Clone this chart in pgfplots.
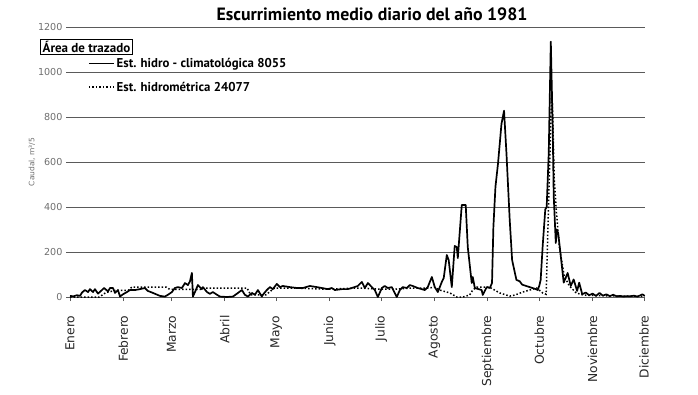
\documentclass[border=0pt]{standalone}
\usepackage{pgfplots}
\pgfplotsset{compat=1.18}
\usepackage{fontspec}
\setmainfont{PT Sans}
\newfontfamily\dejavu{DejaVu Sans}
\definecolor{gridgray}{RGB}{90,90,90}
\definecolor{labgray}{RGB}{110,110,110}
\pgfplotstableread{
x y
1 5
3 3
5 8
6.8 5
8 20
9.7 31
11.5 22
12.6 35
14.4 22
15.5 35
17.3 15
19.6 31
20.8 40
23.1 25
24.3 40
26 40
27.2 18
28.9 31
30.1 2
31.8 12
34.1 22
35.9 31
38.8 31
41.7 35
44.6 40
46.3 27
49.3 18
53.3 5
56.2 2
58 10
60.3 22
62 40
63.8 44
66.1 40
67.9 62
69.6 53
70.8 70
71.9 107
72.5 2
73.7 22
75.4 53
77.7 35
78.3 44
80.7 22
82.4 14
84.1 22
86.5 10
88.2 2
92.3 0
95.8 2
98.7 18
101 31
102.7 10
104.5 2
106.8 18
108.6 10
110.3 31
112.6 2
113.2 10
115.5 31
117.3 44
119 35
121.3 58
123.1 44
124.8 49
128.9 44
133 40
136.5 40
140.5 49
144.6 44
147.5 40
151 35
153.3 40
155.1 31
159.1 35
162.6 35
164.9 40
168.4 49
170.8 67
172.5 40
174.3 62
176.6 44
178.3 31
180.1 0
182.4 40
184.1 49
185.9 40
188.2 44
191.1 0
192.9 31
194.6 44
196.9 40
198.7 53
200.4 49
203.3 40
207.4 31
209.1 44
211.5 89
213.2 44
215 22
217.3 67
218.4 84
220.2 187
221.3 164
223.1 44
224.8 227
226 222
226.6 173
228.9 409
231.2 409
232.4 222
234.7 62
235.3 89
236.5 40
240.5 31
241.1 9
243.4 44
245.2 40
246.5 62
247.3 311
248.5 490
250 594
252 769
253.5 828
254.9 639
256.8 342
258.2 164
260.7 76
262.6 70
264 55
266 50
268.4 44
270 40
272 35
273.1 31
274 50
274.8 76
276 230
277.5 390
278.3 400
279.5 640
280.7 1135
281.8 750
282.4 450
283.6 240
284.2 300
285 284
286.5 182
288.2 64
290.5 107
292.3 49
294 78
296 27
297.2 64
299 12
301 20
303 8
305 15
307 5
309 18
311 6
313 12
315 4
317 10
319 3
321 5
323 2
325 4
327 3
329 6
331 2
333 8
334 12
335.3 5
}\solid
\pgfplotstableread{
x y
1 0
10 0
18 0
22 20
28 30
35 30
37 44
57 44
59 34
77 34
78 40
104 40
106 10
115 10
120 40
130 40
150 35
170 40
180 35
190 35
200 40
210 40
213 44
216 31
222 18
226 0
229.5 0
233.5 9
235.3 31
237.6 44
245 44
251 18
256.8 4
260 9
264.4 22
272.5 40
276 18
278 12
279 300
281.2 915
281.8 820
282.7 520
284 374
285.6 227
288.5 93
291.5 49
295.5 18
300 8
310 6
320 4
335.3 3
}\dotted
\begin{document}
\begin{tikzpicture}[x=1pt,y=1pt]
\path[use as bounding box] (0,0) rectangle (698,394);
\begin{axis}[
  at={(70pt,97pt)}, anchor=south west,
  scale only axis, width=575pt, height=270pt,
  xmin=1, xmax=335.5, ymin=0, ymax=1200,
  axis x line*=bottom, axis y line*=left,
  y axis line style={draw=none},
  x axis line style={draw=gridgray, line width=0.8pt, -},
  xtick={1,32,60,91,121,152,182,213,244,274,305,335},
  xticklabels={Enero,Febrero,Marzo,Abril,Mayo,Junio,Julio,Agosto,Septiembre,Octubre,Noviembre,Diciembre},
  xticklabel style={rotate=90, anchor=east, font=\dejavu\fontsize{12.3}{14}\selectfont, text=black!85},
  xticklabel shift=11pt,
  ytick={0,200,...,1200},
  yticklabel style={font=\dejavu\fontsize{9.6}{11}\selectfont, text=labgray},
  /pgf/number format/assume math mode=true,
  /pgf/number format/1000 sep={},
  tick align=outside, major tick length=4pt,
  tick style={gridgray, line width=0.6pt},
  ymajorgrids, grid style={gridgray, line width=0.8pt},
  ylabel={Caudal, m³/5},
  ylabel style={font=\dejavu\fontsize{7.5}{8}\selectfont, text=labgray},
  ylabel shift=-4pt,
  legend style={draw=none, fill=none, at={(rel axis cs:0.031,0.893)}, anchor=north west,
    font=\fontsize{12.8}{15}\selectfont\bfseries, row sep=9pt, inner sep=0pt},
  legend cell align=left,
  legend image code/.code={\draw[#1] (0pt,0pt) -- (25pt,0pt);},
  clip=false,
]
\addplot[black, line width=1.7pt, line join=round] table[x=x,y=y] {\solid};
\addlegendentry{Est. hidro - climatológica 8055}
\addplot[black, line width=1.5pt, dotted] table[x=x,y=y] {\dotted};
\addlegendentry{Est. hidrométrica 24077}
\end{axis}
\node[font=\fontsize{17.8}{20}\selectfont\bfseries] at (372,380) {Escurrimiento medio diario del año 1981};
\node[draw=black, line width=0.5pt, inner sep=2pt, font=\fontsize{13}{15}\selectfont\bfseries] at (86.5,347) {Área de trazado};
\end{tikzpicture}
\end{document}
